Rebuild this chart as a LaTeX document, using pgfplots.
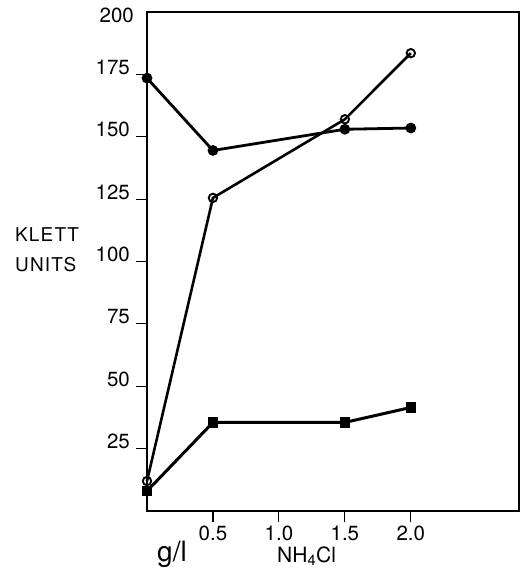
\documentclass[border=0pt]{standalone}
\usepackage{pgfplots}
\pgfplotsset{compat=1.18}
\usepackage{fontspec}
\setmainfont{TeX Gyre Heros}
\newfontfamily\spaced[LetterSpace=6]{TeX Gyre Heros}
\begin{document}
\begin{tikzpicture}
\useasboundingbox (-147pt,-60pt) rectangle (374pt,511pt);
\begin{axis}[
  at={(0pt,0pt)}, anchor=south west,
  scale only axis, width=372pt, height=499pt,
  xmin=0, xmax=2.82, ymin=0, ymax=200,
  axis line style={line width=1.6pt},
  xtick={0.5,1.0,1.5,2.0},
  xticklabels={0.5,1.0,1.5,2.0},
  ytick={25,50,75,100,125,150,175},
  extra y ticks={200},
  extra y tick style={yticklabel style={anchor=north east, yshift=4pt, xshift=-7pt}, major tick length=0pt},
  tick pos=left, tick align=outside,
  major tick length=11pt,
  tick style={line width=1.1pt, black},
  ticklabel style={font=\fontsize{20.5}{24}\selectfont},
  yticklabel style={anchor=base east, inner sep=0pt, xshift=-6pt},
  xticklabel style={anchor=north, inner sep=0pt, yshift=-4pt},
  /pgf/number format/assume math mode=true,
  clip=false,
]
\addplot[black, line width=2.8pt, mark=*, mark size=3.9pt] coordinates {
  (0,173.5) (0.5,144.5) (1.5,153) (2.0,153.5)};
\addplot[black, line width=2.6pt, mark=o, mark size=4.2pt, mark options={fill=white, line width=1.9pt}] coordinates {
  (0,12) (0.5,125.5) (1.5,157) (2.0,183.5)};
\addplot[black, line width=3pt, mark=square*, mark size=3.7pt] coordinates {
  (0,8) (0.5,35.5) (1.5,35.5) (2.0,41.5)};
\end{axis}
\node[anchor=base west, inner sep=0pt, font=\spaced\fontsize{19}{23}\selectfont] at (-132pt,269pt) {KLETT};
\node[anchor=base west, inner sep=0pt, font=\spaced\fontsize{19}{23}\selectfont] at (-132pt,239pt) {UNITS};
\node[anchor=base west, inner sep=0pt, font=\fontsize{28}{32}\selectfont] at (10pt,-50pt) {g/l};
\node[anchor=base west, inner sep=0pt, font=\fontsize{21}{24}\selectfont] at (130pt,-51pt) {NH\textsubscript{4}Cl};
\end{tikzpicture}
\end{document}
